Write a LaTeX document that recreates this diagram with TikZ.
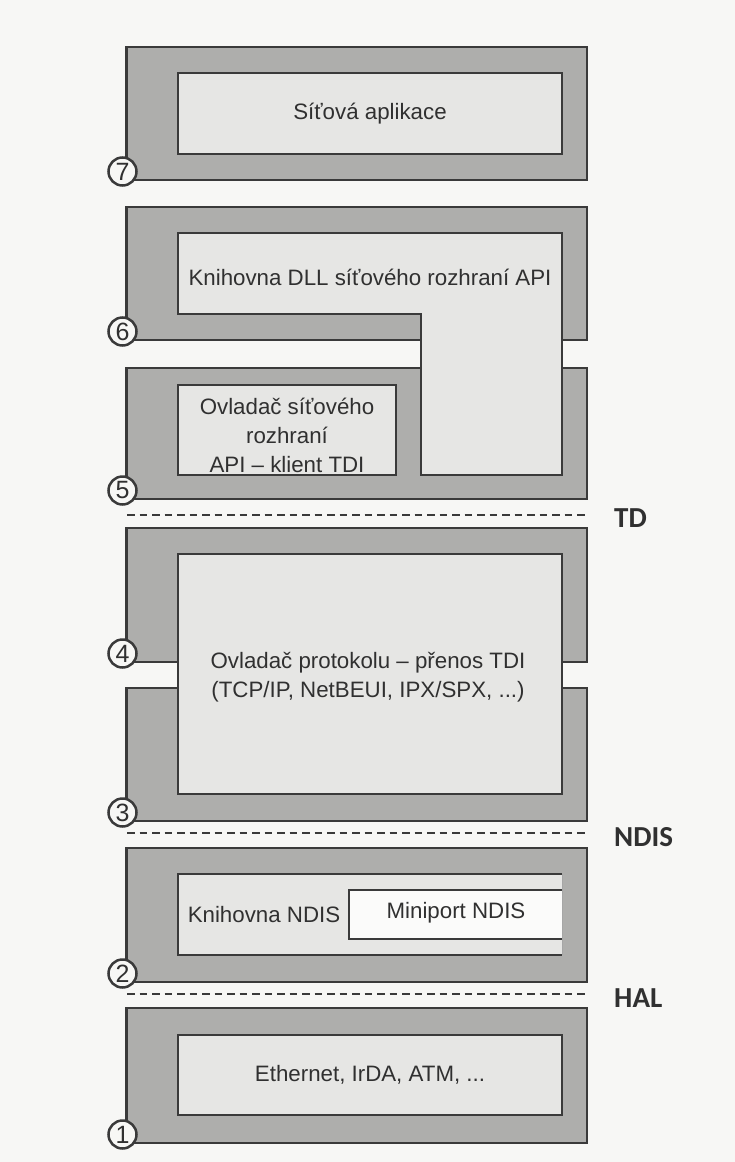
\documentclass[tikz,border=0pt]{standalone}
\usepackage{fontspec}
\setmainfont{Liberation Sans}
\newfontfamily\lblfont{Carlito}
\definecolor{bg}{HTML}{F7F7F5}
\definecolor{outergray}{HTML}{AEAEAC}
\definecolor{innergray}{HTML}{E6E6E4}
\definecolor{miniwhite}{HTML}{FBFBFA}
\definecolor{linegray}{HTML}{3A3A3A}
\definecolor{textgray}{HTML}{303030}
\begin{document}
\begin{tikzpicture}[x=1pt,y=-1pt,
  outer/.style={fill=outergray, draw=linegray, line width=2.4pt},
  inner/.style={fill=innergray, draw=linegray, line width=2.2pt, line join=miter},
  txt/.style={text=textgray, font=\fontsize{22.3}{29}\selectfont, align=center, inner sep=0pt},
  layer/.style={draw=linegray, line width=2.4pt, dash pattern=on 7.5pt off 5pt},
  lbl/.style={text=textgray, font=\lblfont\bfseries\fontsize{29}{29}\selectfont, anchor=west, inner sep=0pt},
  num/.style={circle, draw=linegray, line width=2.5pt, fill=bg, minimum size=28pt, inner sep=0pt, text=textgray, font=\fontsize{25}{25}\selectfont}]
\fill[bg] (0,0) rectangle (735,1162);
\useasboundingbox (0,0) rectangle (735,1162);

% layer 7
\draw[outer] (126.5,47) rectangle (587,180);
\draw[inner] (178,73) rectangle (562,154);
\node[txt] (t7) at (370,114) {Síťová aplikace};

% layers 6 and 5
\draw[outer] (126.5,207) rectangle (587,340);
\draw[outer] (126.5,368) rectangle (587,499);
\draw[inner] (178,233) -- (562,233) -- (562,475) -- (421,475) -- (421,314) -- (178,314) -- cycle;
\node[txt] (t6) at (370,277) {Knihovna DLL síťového rozhraní API};
\draw[inner] (178,385) rectangle (396,475);
\node[txt] (t5) at (287,435.5) {Ovladač síťového\\rozhraní\\API – klient TDI};

% TD
\draw[layer] (127,515) -- (587,515);
\node[lbl] (td) at (614,518) {TD};

% layers 4 and 3
\draw[outer] (126.5,528) rectangle (587,662);
\draw[outer] (126.5,688) rectangle (587,821);
\draw[inner] (178,554) rectangle (562,794);
\node[txt] (t43) at (368,677) {Ovladač protokolu – přenos TDI\\(TCP/IP, NetBEUI, IPX/SPX, ...)};

% NDIS
\draw[layer] (127,833) -- (587,833);
\node[lbl] (ndis) at (614,837) {NDIS};

% layer 2
\draw[outer] (126.5,848) rectangle (587,982);
\fill[innergray] (178,874) rectangle (562,955);
\draw[linegray, line width=2.2pt] (562,874) -- (178,874) -- (178,955) -- (562,955);
\draw[linegray!45, line width=1pt] (562,874) -- (562,955);
\fill[miniwhite] (349,890) rectangle (562,939);
\draw[linegray, line width=2.2pt] (562,890) -- (349,890) -- (349,939) -- (562,939);
\node[txt] (t2a) at (264,915) {Knihovna NDIS};
\node[txt] (t2b) at (456,913) {Miniport NDIS};

% HAL
\draw[layer] (127,994) -- (587,994);
\node[lbl] (hal) at (614,998) {HAL};

% layer 1
\draw[outer] (126.5,1008) rectangle (587,1143);
\draw[inner] (178,1035) rectangle (562,1115);
\node[txt] (t1) at (370,1075) {Ethernet, IrDA, ATM, ...};

% numbers
\node[num] (n7) at (122.5,171.5) {7};
\node[num] (n6) at (122.5,331.5) {6};
\node[num] (n5) at (122.5,490.5) {5};
\node[num] (n4) at (122.5,653.5) {4};
\node[num] (n3) at (122.5,812.5) {3};
\node[num] (n2) at (122.5,973.5) {2};
\node[num] (n1) at (122.5,1134.5) {1};
\end{tikzpicture}
\end{document}
